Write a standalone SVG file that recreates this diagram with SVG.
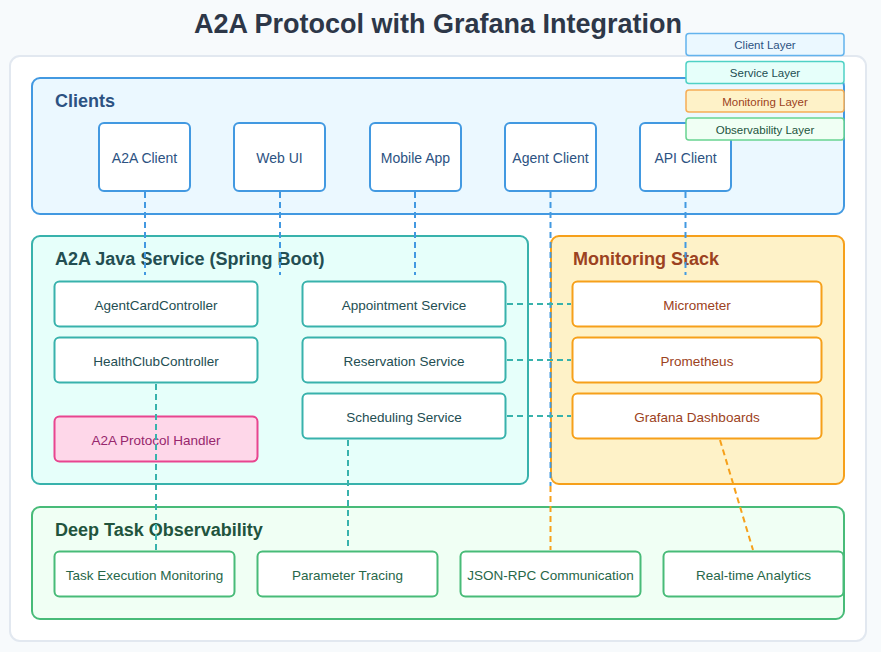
<svg xmlns="http://www.w3.org/2000/svg" width="881" height="652" viewBox="0 0 881 652">
<style>
text{font-family:"Liberation Sans",Arial,sans-serif}
.title{font-size:27px;font-weight:bold;fill:#2d3748}
.hdr{font-size:18px;font-weight:bold}
.lbl{font-size:13.5px}
.clbl{font-size:14px}
.leg{font-size:11.5px}
.cn{fill:#fff;stroke:#4299e1;stroke-width:2}
.sn{fill:#fff;stroke:#38b2ac;stroke-width:2}
.mn{fill:#fff;stroke:#f6a01a;stroke-width:2}
.on{fill:#fff;stroke:#48bb78;stroke-width:2}
.ct{fill:#2c5282}
.st{fill:#234e52}
.mt{fill:#9c4221}
.ot{fill:#276749}
.db{stroke:#4299e1;stroke-width:2;stroke-dasharray:6 4;fill:none}
.dt{stroke:#38b2ac;stroke-width:2;stroke-dasharray:6 4;fill:none}
.do{stroke:#f6a01a;stroke-width:2;stroke-dasharray:6 4;fill:none}
</style>
<rect width="881" height="652" fill="#f7fafc"/>
<text class="title" x="438" y="33" text-anchor="middle">A2A Protocol with Grafana Integration</text>
<rect x="10" y="56" width="856" height="585" rx="10" fill="#fff" stroke="#e2e8f0" stroke-width="2"/>

<g id="clients-layer">
<rect x="32" y="78" width="812" height="136" rx="8" fill="#ebf8ff" stroke="#4299e1" stroke-width="2"/>
<text class="hdr ct" x="55" y="107">Clients</text>
</g>
<g id="service-layer">
<rect x="32" y="236" width="496" height="248" rx="8" fill="#e6fffa" stroke="#38b2ac" stroke-width="2"/>
<text class="hdr st" x="55" y="265">A2A Java Service (Spring Boot)</text>
</g>
<g id="monitoring-layer">
<rect x="551" y="236" width="293" height="248" rx="8" fill="#fef2c8" stroke="#f6a01a" stroke-width="2"/>
<text class="hdr mt" x="573" y="265">Monitoring Stack</text>
</g>
<g id="observability-layer">
<rect x="32" y="507" width="812" height="112" rx="8" fill="#f0fff4" stroke="#48bb78" stroke-width="2"/>
<text class="hdr" fill="#22543d" x="55" y="536">Deep Task Observability</text>
</g>

<g id="a2a-client"><rect class="cn" x="99" y="123" width="91" height="68" rx="5"/><text class="clbl ct" x="144.5" y="163" text-anchor="middle">A2A Client</text></g>
<g id="web-ui"><rect class="cn" x="234" y="123" width="91" height="68" rx="5"/><text class="clbl ct" x="279.5" y="163" text-anchor="middle">Web UI</text></g>
<g id="mobile-app"><rect class="cn" x="370" y="123" width="91" height="68" rx="5"/><text class="clbl ct" x="415.5" y="163" text-anchor="middle">Mobile App</text></g>
<g id="agent-client"><rect class="cn" x="505" y="123" width="91" height="68" rx="5"/><text class="clbl ct" x="550.5" y="163" text-anchor="middle">Agent Client</text></g>
<g id="api-client"><rect class="cn" x="640" y="123" width="91" height="68" rx="5"/><text class="clbl ct" x="685.5" y="163" text-anchor="middle">API Client</text></g>

<g id="agentcard-controller"><rect class="sn" x="54.5" y="281.5" width="203" height="45" rx="5"/><text class="lbl st" x="156" y="310" text-anchor="middle">AgentCardController</text></g>
<g id="healthclub-controller"><rect class="sn" x="54.5" y="337.5" width="203" height="45" rx="5"/><text class="lbl st" x="156" y="366" text-anchor="middle">HealthClubController</text></g>
<g id="a2a-protocol-handler"><rect x="54.5" y="416.5" width="203" height="45" rx="5" fill="#fed7e9" stroke="#e8458f" stroke-width="2"/><text class="lbl" fill="#97266d" x="156" y="444.5" text-anchor="middle">A2A Protocol Handler</text></g>
<g id="appointment-service"><rect class="sn" x="302.5" y="281.5" width="203" height="45" rx="5"/><text class="lbl st" x="404" y="310" text-anchor="middle">Appointment Service</text></g>
<g id="reservation-service"><rect class="sn" x="302.5" y="337.5" width="203" height="45" rx="5"/><text class="lbl st" x="404" y="366" text-anchor="middle">Reservation Service</text></g>
<g id="scheduling-service"><rect class="sn" x="302.5" y="393.5" width="203" height="45" rx="5"/><text class="lbl st" x="404" y="422" text-anchor="middle">Scheduling Service</text></g>

<g id="micrometer"><rect class="mn" x="572.5" y="281.5" width="249" height="45" rx="5"/><text class="lbl mt" x="697" y="310" text-anchor="middle">Micrometer</text></g>
<g id="prometheus"><rect class="mn" x="572.5" y="337.5" width="249" height="45" rx="5"/><text class="lbl mt" x="697" y="366" text-anchor="middle">Prometheus</text></g>
<g id="grafana-dashboards"><rect class="mn" x="572.5" y="393.5" width="249" height="45" rx="5"/><text class="lbl mt" x="697" y="422" text-anchor="middle">Grafana Dashboards</text></g>

<g id="task-execution-monitoring"><rect class="on" x="54.5" y="551.5" width="180" height="45" rx="5"/><text class="lbl ot" x="144.5" y="580" text-anchor="middle">Task Execution Monitoring</text></g>
<g id="parameter-tracing"><rect class="on" x="257.5" y="551.5" width="180" height="45" rx="5"/><text class="lbl ot" x="347.5" y="580" text-anchor="middle">Parameter Tracing</text></g>
<g id="json-rpc-communication"><rect class="on" x="460.5" y="551.5" width="180" height="45" rx="5"/><text class="lbl ot" x="550.5" y="580" text-anchor="middle">JSON-RPC Communication</text></g>
<g id="real-time-analytics"><rect class="on" x="663.5" y="551.5" width="180" height="45" rx="5"/><text class="lbl ot" x="753.5" y="580" text-anchor="middle">Real-time Analytics</text></g>

<g id="connectors">
<line class="db" x1="145" y1="192" x2="145" y2="275"/>
<line class="db" x1="280" y1="192" x2="280" y2="275"/>
<line class="db" x1="415" y1="192" x2="415" y2="275"/>
<line class="db" x1="550.5" y1="192" x2="550.5" y2="486"/>
<line class="db" x1="685.5" y1="192" x2="685.5" y2="275"/>
<line class="do" x1="550.5" y1="486" x2="550.5" y2="550"/>
<line class="dt" x1="156" y1="384" x2="156" y2="550"/>
<line class="dt" x1="348" y1="440" x2="348" y2="550"/>
<line class="dt" x1="507" y1="304" x2="571" y2="304"/>
<line class="dt" x1="507" y1="360" x2="571" y2="360"/>
<line class="dt" x1="507" y1="416" x2="571" y2="416"/>
<line class="do" x1="720" y1="440" x2="753" y2="550"/>
</g>

<g id="legend">
<rect x="686" y="33.5" width="158" height="22" rx="3" fill="#ebf8ff" stroke="#63b3ed" stroke-width="1.5"/>
<text class="leg ct" x="765" y="49" text-anchor="middle">Client Layer</text>
<rect x="686" y="61.5" width="158" height="22" rx="3" fill="#e6fffa" stroke="#4fd1c5" stroke-width="1.5"/>
<text class="leg st" x="765" y="77" text-anchor="middle">Service Layer</text>
<rect x="686" y="90" width="158" height="22" rx="3" fill="#fef2c8" stroke="#f6ad55" stroke-width="1.5"/>
<text class="leg mt" x="765" y="105.5" text-anchor="middle">Monitoring Layer</text>
<rect x="686" y="118" width="158" height="22" rx="3" fill="#f0fff4" stroke="#68d391" stroke-width="1.5"/>
<text class="leg" fill="#22543d" x="765" y="133.5" text-anchor="middle">Observability Layer</text>
</g>
</svg>
